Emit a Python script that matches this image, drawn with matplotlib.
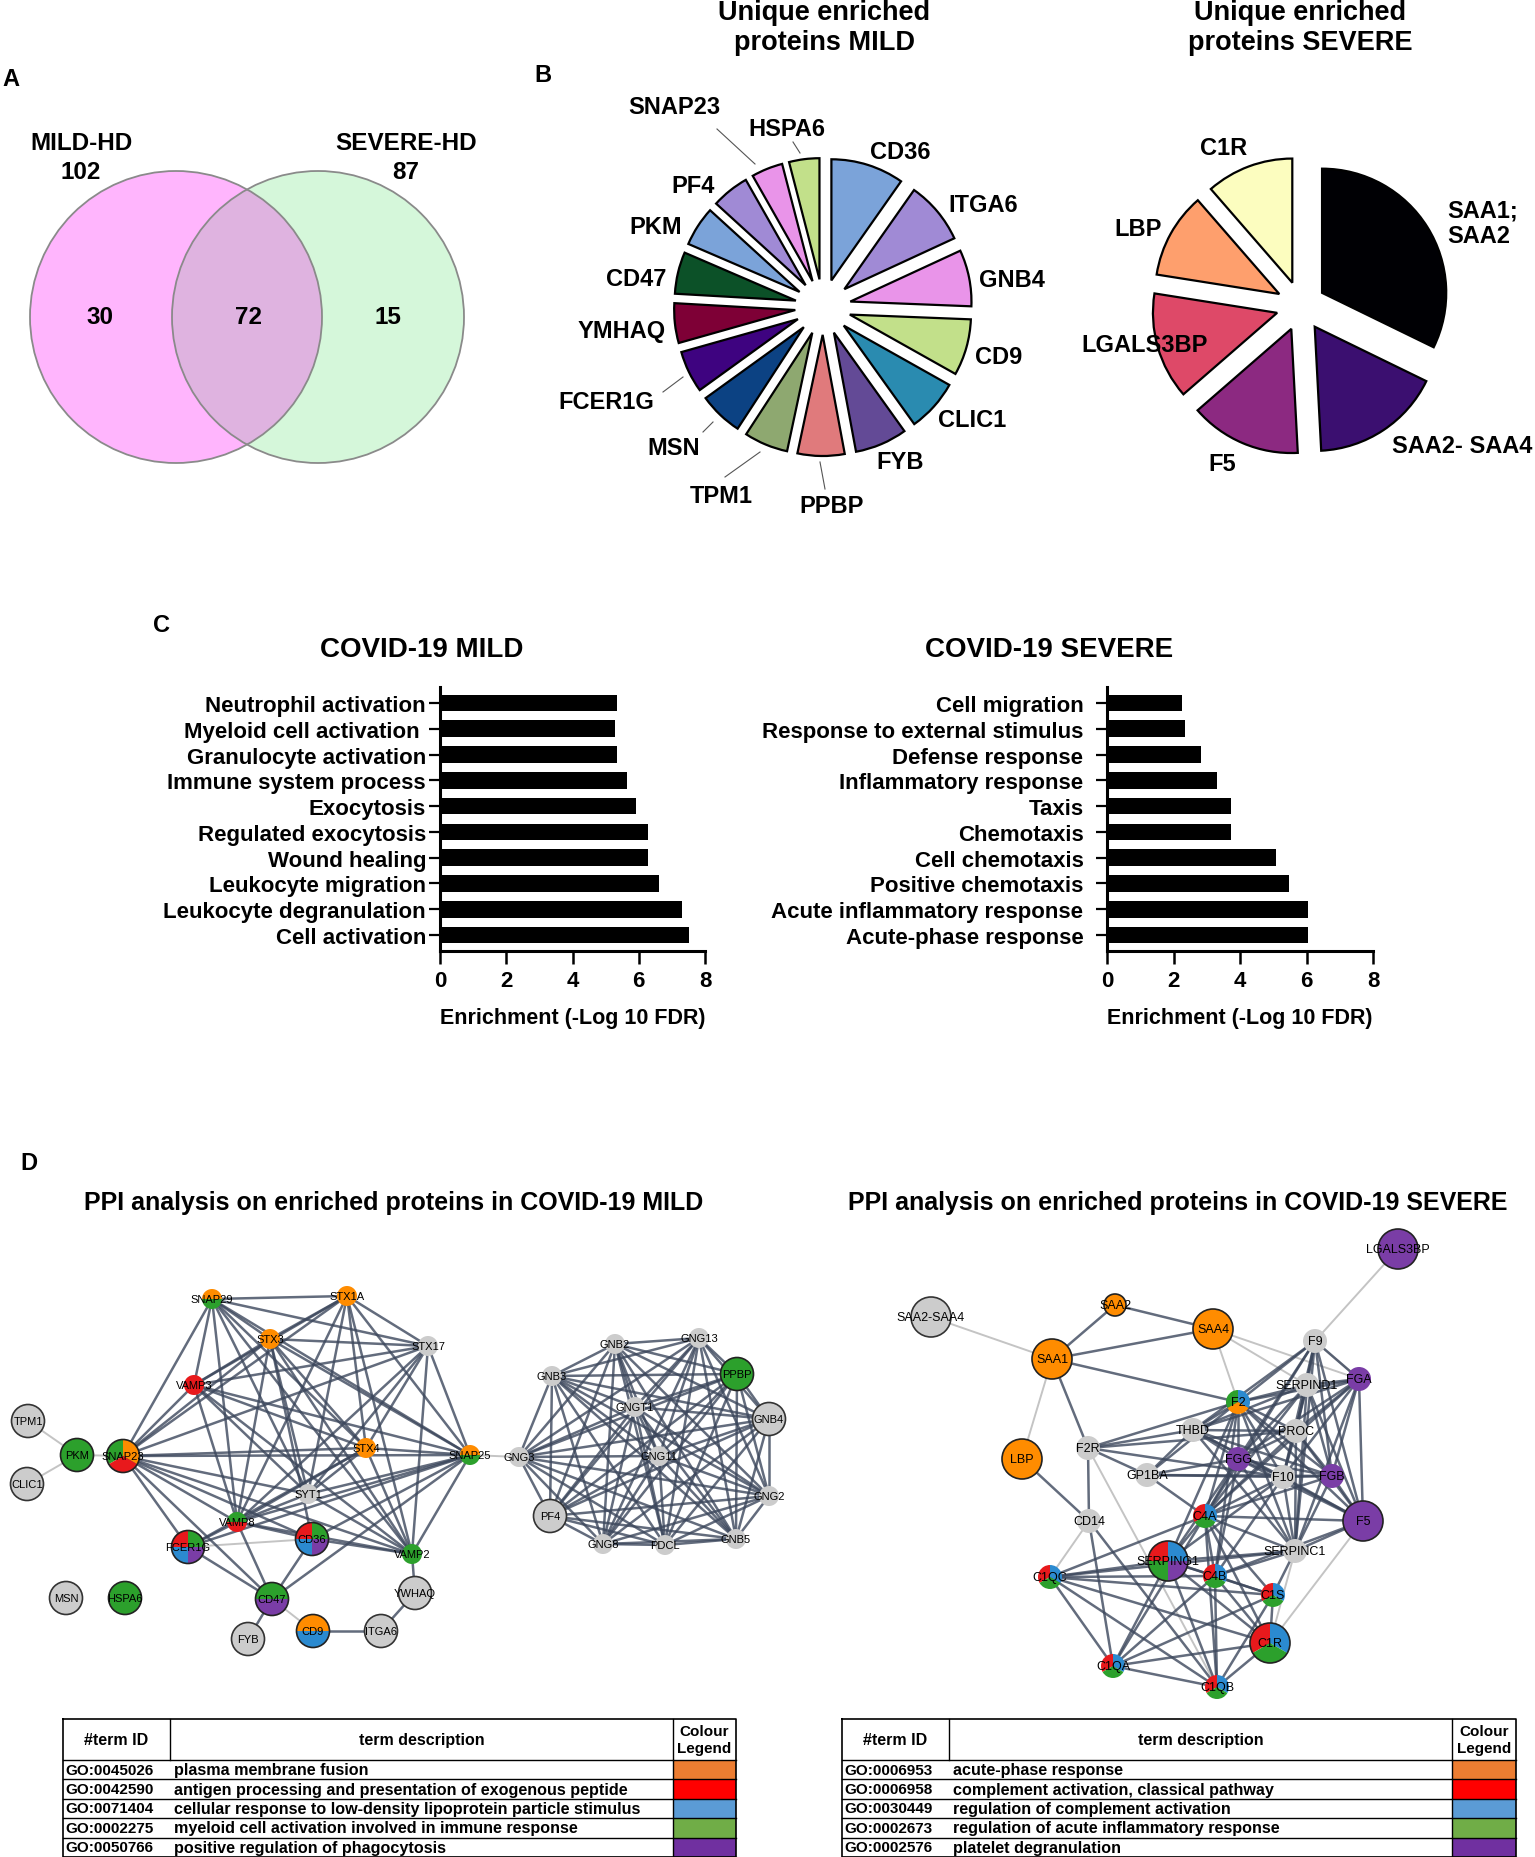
import numpy as np
import matplotlib
matplotlib.use('Agg')
import matplotlib.pyplot as plt
from matplotlib.patches import Circle, Wedge, Rectangle
from matplotlib.collections import LineCollection
from itertools import combinations

plt.rcParams['font.family'] = ['Liberation Sans', 'DejaVu Sans']
plt.rcParams['font.weight'] = 'bold'
plt.rcParams['axes.labelweight'] = 'bold'

# ---------------- data ----------------
venn_names = ['MILD-HD', 'SEVERE-HD']
venn_totals = [102, 87]
venn_parts = [30, 72, 15]          # mild only, shared, severe only

mild_prot = ['CD36', 'ITGA6', 'GNB4', 'CD9', 'CLIC1', 'FYB', 'PPBP', 'TPM1',
             'MSN', 'FCER1G', 'YMHAQ', 'CD47', 'PKM', 'PF4', 'SNAP23', 'HSPA6']
mild_share = [35, 30, 27, 27, 25, 25, 22.5, 21, 21, 20, 19, 20, 19, 18, 15, 14.5]
mild_cols = ['#7ba3d9', '#a08ad5', '#e994e9', '#c2e08a', '#2a8bb0', '#634a96',
             '#e07a7c', '#8ea870', '#0c4283', '#3e0380', '#7e0036', '#0c5128',
             '#7ba3d9', '#a08ad5', '#e994e9', '#c2e08a']

severe_prot = ['SAA1;\nSAA2', 'SAA2- SAA4', 'F5', 'LGALS3BP', 'LBP', 'C1R']
severe_share = [116, 61, 52, 50, 40, 41]
severe_cols = ['#000004', '#3b0f70', '#8c2981', '#de4968', '#fe9f6d', '#fcfdbf']

mild_terms = ['Neutrophil activation', 'Myeloid cell activation ', 'Granulocyte activation',
              'Immune system process', 'Exocytosis', 'Regulated exocytosis', 'Wound healing',
              'Leukocyte migration', 'Leukocyte degranulation', 'Cell activation']
mild_fdr = [5.34, 5.28, 5.34, 5.66, 5.91, 6.27, 6.27, 6.62, 7.31, 7.53]
severe_terms = ['Cell migration', 'Response to external stimulus', 'Defense response',
                'Inflammatory response', 'Taxis', 'Chemotaxis', 'Cell chemotaxis',
                'Positive chemotaxis', 'Acute inflammatory response', 'Acute-phase response']
severe_fdr = [2.26, 2.35, 2.84, 3.32, 3.73, 3.73, 5.07, 5.46, 6.05, 6.05]

# GO term colour codes used by the STRING networks
term_col = {'o': '#ff8c00', 'r': '#e8191c', 'b': '#2b8ad0', 'g': '#2ca02c', 'p': '#7a3da6'}

mild_go_id = ['GO:0045026', 'GO:0042590', 'GO:0071404', 'GO:0002275', 'GO:0050766']
mild_go_desc = ['plasma membrane fusion',
                'antigen processing and presentation of exogenous peptide',
                'cellular response to low-density lipoprotein particle stimulus',
                'myeloid cell activation involved in immune response',
                'positive regulation of phagocytosis']
severe_go_id = ['GO:0006953', 'GO:0006958', 'GO:0030449', 'GO:0002673', 'GO:0002576']
severe_go_desc = ['acute-phase response', 'complement activation, classical pathway',
                  'regulation of complement activation',
                  'regulation of acute inflammatory response', 'platelet degranulation']
legend_cols = ['#ed7d31', '#ff0000', '#5b9bd5', '#70ad47', '#7030a0']

# network nodes: name, GO terms, has 3D structure (big node)
mild_nodes = ['SNAP29', 'STX1A', 'STX3', 'STX17', 'VAMP3', 'SNAP23', 'STX4', 'SNAP25',
              'SYT1', 'VAMP8', 'FCER1G', 'CD36', 'VAMP2', 'CD47', 'YWHAQ', 'FYB', 'CD9',
              'ITGA6', 'HSPA6', 'MSN', 'TPM1', 'PKM', 'CLIC1',
              'GNB2', 'GNG13', 'GNB3', 'PPBP', 'GNGT1', 'GNB4', 'GNG3', 'GNG11', 'GNG2',
              'PF4', 'GNG8', 'PDCL', 'GNB5']
mild_node_terms = ['og', 'o', 'o', '', 'r', 'ogr', 'o', 'og', '', 'gr', 'grbp', 'grbp', 'g',
                   'gp', '', '', 'ob', '', 'g', '', '', 'g', '',
                   '', '', '', 'g', '', '', '', '', '', '', '', '', '']
mild_node_big = [0, 0, 0, 0, 0, 1, 0, 0, 0, 0, 1, 1, 0, 1, 1, 1, 1, 1, 1, 1, 1, 1, 1,
                 0, 0, 0, 1, 0, 1, 0, 0, 0, 1, 0, 0, 0]
mild_node_x = [212, 347, 270, 428, 194, 123, 366, 470, 308, 237, 188, 312, 412, 272, 415,
               248, 313, 381, 125, 66, 28, 77, 27,
               615, 699, 552, 737, 635, 769, 519, 659, 769, 550, 603, 665, 736]
mild_node_y = [1300, 1297, 1340, 1347, 1386, 1457, 1449, 1456, 1495, 1523, 1548, 1540, 1555,
               1600, 1594, 1640, 1632, 1632, 1599, 1599, 1422, 1456, 1485,
               1345, 1339, 1377, 1375, 1408, 1420, 1458, 1457, 1497, 1517, 1545, 1546, 1540]

snare_group = ['SNAP29', 'STX1A', 'STX3', 'STX17', 'VAMP3', 'SNAP23', 'STX4', 'SNAP25',
               'SYT1', 'VAMP8', 'VAMP2']
gng_group = ['GNB2', 'GNG13', 'GNB3', 'PPBP', 'GNGT1', 'GNB4', 'GNG3', 'GNG11', 'GNG2',
             'PF4', 'GNG8', 'PDCL', 'GNB5']
mild_edges = [('FCER1G', 'SNAP23'), ('FCER1G', 'VAMP8'), ('FCER1G', 'CD47'), ('FCER1G', 'SNAP25'),
              ('FCER1G', 'STX4'), ('CD36', 'SNAP23'), ('CD36', 'VAMP8'), ('CD36', 'CD47'),
              ('CD36', 'SNAP25'), ('CD36', 'STX3'), ('CD36', 'VAMP2'), ('CD47', 'SNAP23'),
              ('CD47', 'VAMP8'), ('CD47', 'SNAP25'), ('CD47', 'FYB'), ('VAMP2', 'YWHAQ'),
              ('YWHAQ', 'ITGA6'), ('ITGA6', 'CD9')]
mild_weak = [('PKM', 'TPM1'), ('PKM', 'CLIC1'), ('PKM', 'SNAP23'), ('FCER1G', 'CD36'),
             ('CD47', 'CD9'), ('SNAP25', 'GNG3')]

sev_nodes = ['LGALS3BP', 'SAA2-SAA4', 'SAA2', 'SAA4', 'SAA1', 'F9', 'SERPIND1', 'FGA', 'F2',
             'THBD', 'PROC', 'F2R', 'LBP', 'FGG', 'GP1BA', 'F10', 'FGB', 'CD14', 'C4A', 'F5',
             'SERPINC1', 'SERPING1', 'C1QC', 'C4B', 'C1S', 'C1R', 'C1QA', 'C1QB']
sev_node_terms = ['p', '', 'o', 'o', 'o', '', '', 'p', 'bgo', '', '', '', 'o', 'p', '', '',
                  'p', '', 'brg', 'p', '', 'brgp', 'brg', 'brg', 'brg', 'brg', 'brg', 'brg']
sev_node_big = [1, 1, 2, 1, 1, 0, 0, 0, 0, 0, 0, 0, 1, 0, 0, 0, 0, 0, 0, 1, 0, 1, 0, 0, 0, 1, 0, 0]
sev_node_x = [1398, 931, 1115, 1213, 1052, 1315, 1307, 1359, 1238, 1193, 1296, 1088, 1022,
              1238, 1147, 1283, 1332, 1089, 1205, 1363, 1295, 1168, 1050, 1215, 1273, 1270,
              1113, 1217]
sev_node_y = [1250, 1318, 1306, 1330, 1360, 1342, 1386, 1380, 1403, 1431, 1432, 1449, 1460,
              1460, 1476, 1478, 1477, 1522, 1517, 1522, 1552, 1562, 1578, 1577, 1596, 1644,
              1667, 1688]
coag_group = ['F2', 'F9', 'SERPIND1', 'FGA', 'PROC', 'THBD', 'FGG', 'F10', 'FGB', 'F5', 'SERPINC1']
compl_group = ['C4A', 'SERPING1', 'C1QC', 'C4B', 'C1S', 'C1R', 'C1QA', 'C1QB']
sev_edges = [('SAA1', 'SAA2'), ('SAA2', 'SAA4'), ('SAA1', 'SAA4'), ('SAA1', 'F2'), ('SAA1', 'F2R'),
             ('LBP', 'CD14'), ('F2R', 'CD14'), ('F2R', 'THBD'), ('F2R', 'F2'), ('F2R', 'PROC'),
             ('F2R', 'GP1BA'), ('F2R', 'F10'), ('CD14', 'C1QA'), ('CD14', 'C1QB'),
             ('GP1BA', 'F2'), ('GP1BA', 'FGG'), ('GP1BA', 'F10'), ('GP1BA', 'FGB'), ('GP1BA', 'C4A'),
             ('GP1BA', 'THBD'), ('C4A', 'F2'), ('C4A', 'F9'), ('C4A', 'SERPIND1'), ('C4A', 'FGA'),
             ('C4A', 'PROC'), ('C4A', 'FGG'), ('C4A', 'F10'), ('C4A', 'FGB'), ('C4A', 'F5'),
             ('C4A', 'SERPINC1'), ('C4B', 'F2'), ('C4B', 'SERPINC1'), ('C4B', 'F5'), ('C4B', 'F10'),
             ('SERPING1', 'F2'), ('SERPING1', 'SERPINC1'), ('SERPING1', 'F10'), ('C1S', 'SERPINC1'),
             ('C1QC', 'SERPINC1'), ('SERPING1', 'FGG'), ('C4B', 'FGG')]
sev_weak = [('SAA2-SAA4', 'SAA1'), ('SAA1', 'LBP'), ('SAA4', 'F2'), ('SAA4', 'SERPIND1'),
            ('SAA4', 'FGA'), ('LGALS3BP', 'F9'), ('F2R', 'C1QB'), ('CD14', 'C1QC'), ('F5', 'C1R'),
            ('SERPINC1', 'C1R'), ('F9', 'FGA')]

# ---------------- figure ----------------
W, H = 1535, 1858
fig = plt.figure(figsize=(W / 100, H / 100), dpi=100)


def px_axes(x0, y0, x1, y1):
    return fig.add_axes([x0 / W, 1 - y1 / H, (x1 - x0) / W, (y1 - y0) / H])


# pies
ax = px_axes(674, 159, 972, 457)
ax.pie(mild_share, colors=mild_cols, startangle=90, counterclock=False,
       explode=[0.23] * len(mild_share), wedgeprops=dict(edgecolor='black', linewidth=1.6))
ax.set_xlim(-1.23, 1.23)
ax.set_ylim(-1.23, 1.23)

ax = px_axes(1152, 158, 1450, 456)
ax.pie(severe_share, colors=severe_cols, startangle=90, counterclock=False,
       explode=[0.2] * len(severe_share), wedgeprops=dict(edgecolor='black', linewidth=1.6))
ax.set_xlim(-1.2, 1.2)
ax.set_ylim(-1.2, 1.2)


# bar charts
def bar_panel(rect, terms, vals, pad):
    ax = px_axes(*rect)
    pos = np.arange(len(terms))
    ax.barh(pos, vals, height=0.65, color='black')
    ax.set_ylim(len(terms) - 0.38, -0.62)
    ax.set_xlim(0, 8)
    ax.set_xticks([0, 2, 4, 6, 8])
    ax.set_yticks(pos)
    ax.set_yticklabels(terms)
    for s in ['top', 'right']:
        ax.spines[s].set_visible(False)
    for s in ['left', 'bottom']:
        ax.spines[s].set_linewidth(2.2)
    ax.tick_params(axis='y', length=8, width=1.6, labelsize=16, pad=pad)
    ax.tick_params(axis='x', length=9, width=1.8, labelsize=16, pad=5)
    ax.set_xlabel('Enrichment (-Log 10 FDR)', fontsize=15.5, fontweight='bold', labelpad=11)
    return ax


bar_panel((440, 688, 705, 952), mild_terms, mild_fdr, 2)
bar_panel((1107, 688, 1373, 952), severe_terms, severe_fdr, 9)

# overlay in pixel coordinates
ov = px_axes(0, 0, W, H)
ov.set_xlim(0, W)
ov.set_ylim(H, 0)
ov.axis('off')

# panel letters and titles
for lab, x, y in [('A', 11, 79), ('B', 543, 75), ('C', 162, 625), ('D', 29, 1164)]:
    ov.text(x, y, lab, fontsize=17, ha='center', va='center')
for x, s in [(824, 'MILD'), (1300, 'SEVERE')]:
    ov.text(x, 20, 'Unique enriched', fontsize=19.5, ha='center', va='baseline')
    ov.text(x, 50, 'proteins ' + s, fontsize=19.5, ha='center', va='baseline')
ov.text(422, 650, 'COVID-19 MILD', fontsize=20, ha='center', va='center')
ov.text(1049, 650, 'COVID-19 SEVERE', fontsize=20, ha='center', va='center')
ov.text(394, 1203, 'PPI analysis on enriched proteins in COVID-19 MILD', fontsize=18,
        ha='center', va='center')
ov.text(1178, 1203, 'PPI analysis on enriched proteins in COVID-19 SEVERE', fontsize=18,
        ha='center', va='center')

# Venn
c1 = Circle((176, 318), 146, fc='#ffb5fd', ec='none', zorder=1)
c2 = Circle((318, 318), 146, fc='#d5f7da', ec='none', zorder=1)
ov.add_patch(c1)
ov.add_patch(c2)
lens = Circle((318, 318), 146, fc='#dfb3e0', ec='none', zorder=2)
ov.add_patch(lens)
lens.set_clip_path(c1)
for c in [(176, 318), (318, 318)]:
    ov.add_patch(Circle(c, 146, fc='none', ec='#8a8a8a', lw=1.3, zorder=3))
for (x, name, tot) in zip([81, 406], venn_names, venn_totals):
    ov.text(x, 143, name, fontsize=17.5, ha='center', va='center')
    ov.text(x, 172, str(tot), fontsize=17.5, ha='center', va='center')
for x, v in zip([100, 248, 388], venn_parts):
    ov.text(x, 317, str(v), fontsize=17.5, ha='center', va='center', zorder=4)

# pie labels
mild_lab_xy = [(900, 152), (983, 205), (1012, 280), (999, 357), (972, 420), (900, 462),
               (832, 506), (721, 496), (674, 448), (606, 402), (622, 331), (636, 279),
               (656, 227), (693, 186), (674, 107), (787, 129)]
for name, (x, y) in zip(mild_prot, mild_lab_xy):
    ov.text(x, y, name, fontsize=17, ha='center', va='center')
for (x0, y0), (x1, y1) in [((717, 130), (755, 165)), ((793, 143), (800, 154)),
                           ((663, 393), (683, 378)), ((703, 433), (713, 423)),
                           ((725, 478), (760, 453)), ((820, 463), (825, 490))]:
    ov.plot([x0, x1], [y0, y1], color='#555555', lw=0.8)

sev_lab_xy = [(1447, 224), (1462, 446), (1222, 464), (1145, 345), (1138, 229), (1224, 148)]
for name, (x, y) in zip(severe_prot, sev_lab_xy):
    ov.text(x, y, name, fontsize=17, ha='left' if '\n' in name else 'center', va='center',
            linespacing=1.15, zorder=5)


# networks
def draw_network(names, terms, big, xs, ys, groups, edges, weak, radii, fsize):
    pos = {n: (x, y) for n, x, y in zip(names, xs, ys)}
    segs = [[pos[a], pos[b]] for a, b in weak]
    ov.add_collection(LineCollection(segs, colors='#c4c4c4', linewidths=1.4, zorder=2))
    strong = list(edges)
    for g in groups:
        strong += list(combinations(g, 2))
    segs = [[pos[a], pos[b]] for a, b in strong]
    ov.add_collection(LineCollection(segs, colors='#3c475c', linewidths=1.8, alpha=0.8, zorder=2))
    for n, t, b, x, y in zip(names, terms, big, xs, ys):
        r = radii[b]
        if not t:
            ov.add_patch(Circle((x, y), r, fc='#cccccc', ec='#333333' if b else 'none',
                                lw=1.2, zorder=3))
        else:
            start = {1: 90, 2: 0, 3: -30, 4: 0}[len(t)]
            span = 360 / len(t)
            for i, k in enumerate(t):
                a0 = start + i * span
                # y axis is inverted: flip angles
                ov.add_patch(Wedge((x, y), r, -(a0 + span), -a0, fc=term_col[k], ec='none',
                                   zorder=3))
            if b:
                ov.add_patch(Circle((x, y), r, fc='none', ec='#222222', lw=1.2, zorder=4))
        ov.text(x, y, n, fontsize=fsize, fontweight='normal', ha='center', va='center', zorder=5)


draw_network(mild_nodes, mild_node_terms, mild_node_big, mild_node_x, mild_node_y,
             [snare_group, gng_group], mild_edges, mild_weak, {0: 10, 1: 16.5}, 8)
draw_network(sev_nodes, sev_node_terms, sev_node_big, sev_node_x, sev_node_y,
             [coag_group, compl_group], sev_edges, sev_weak, {0: 12, 1: 20, 2: 11}, 9)


# tables
def draw_table(cols, ids, descs):
    x0, x1, x2, x3 = cols
    top, hb, rh = 1720, 1761, 19.4
    bot = hb + rh * len(ids)
    for i, c in enumerate(legend_cols):
        ov.add_patch(Rectangle((x2, hb + i * rh), x3 - x2, rh, fc=c, ec='none', zorder=2))
    ov.plot([x0, x3, x3, x0, x0], [top, top, bot, bot, top], color='black', lw=1.2, zorder=3)
    for x in (x1, x2):
        ov.plot([x, x], [top, hb], color='black', lw=1, zorder=3)
    ov.plot([x2, x2], [hb, bot], color='black', lw=1, zorder=3)
    for i in range(len(ids) + 1):
        ov.plot([x0, x3], [hb + i * rh] * 2, color='black', lw=1, zorder=3)
    ym = (top + hb) / 2
    ov.text((x0 + x1) / 2, ym, '#term ID', fontsize=11.5, ha='center', va='center')
    ov.text((x1 + x2) / 2, ym, 'term description', fontsize=11.5, ha='center', va='center')
    ov.text((x2 + x3) / 2, ym, 'Colour\nLegend', fontsize=11, ha='center', va='center',
            linespacing=1.25)
    for i, (gid, d) in enumerate(zip(ids, descs)):
        y = hb + (i + 0.5) * rh
        ov.text(x0 + 2, y, gid, fontsize=11, ha='left', va='center')
        ov.text(x1 + 4, y, d, fontsize=11.6, ha='left', va='center')


draw_table((63, 170, 673, 736), mild_go_id, mild_go_desc)
draw_table((842, 949, 1452, 1516), severe_go_id, severe_go_desc)

fig.savefig('out.png', dpi=100)
